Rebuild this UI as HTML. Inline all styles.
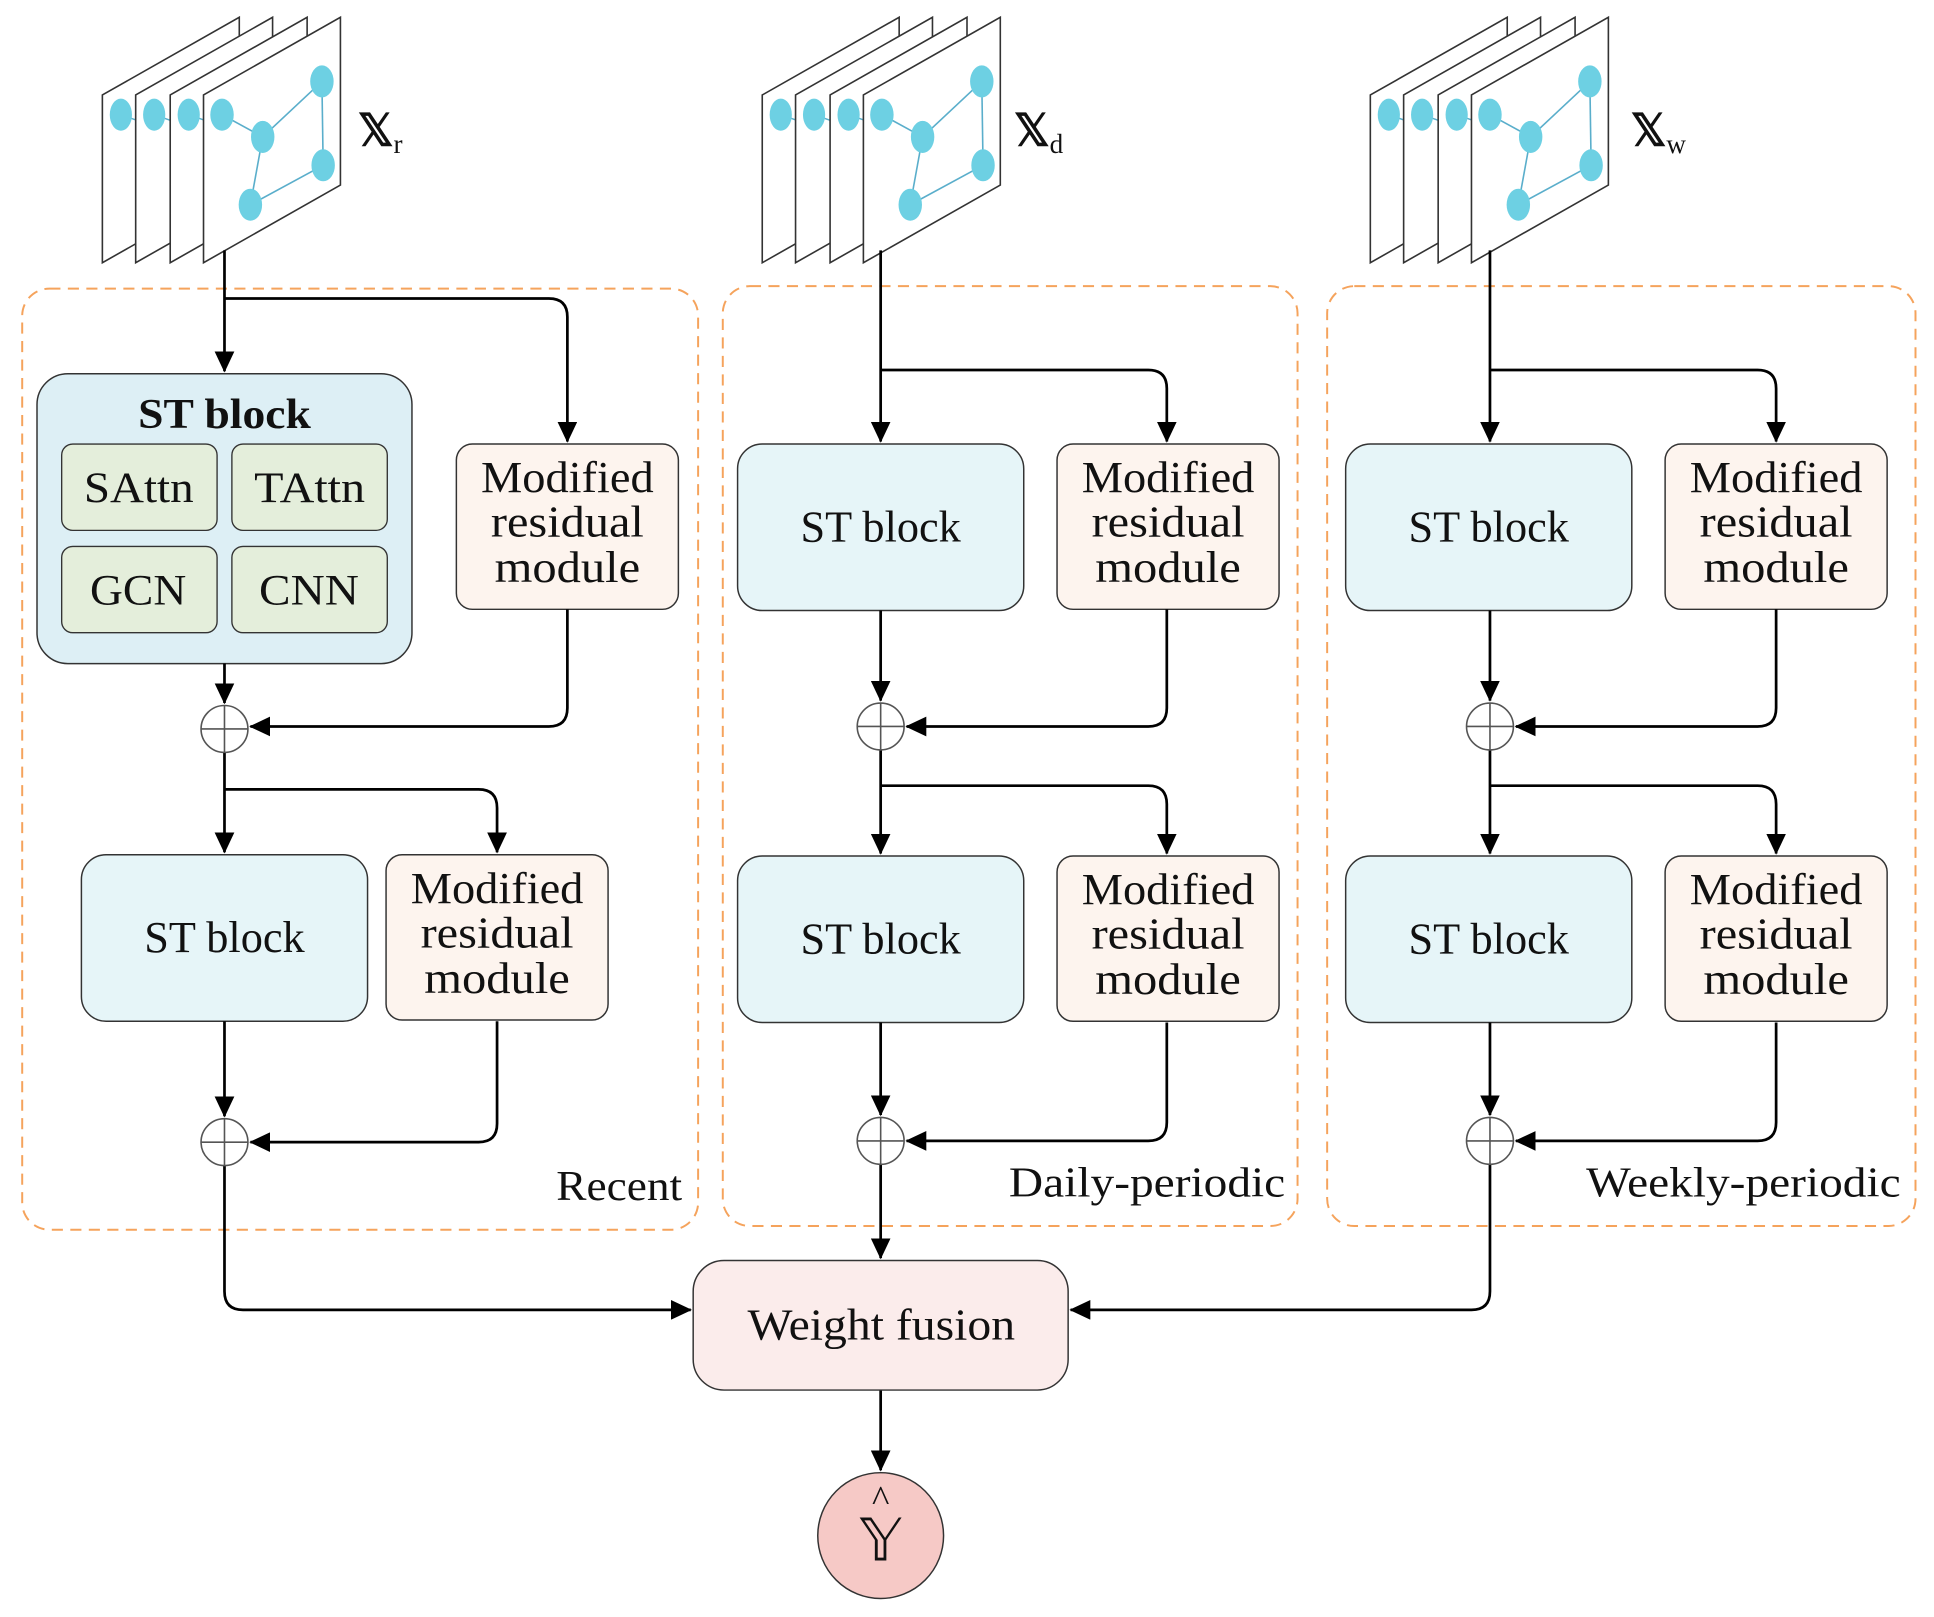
<!DOCTYPE html>
<html><head><meta charset="utf-8"><style>
html,body{margin:0;padding:0;background:#fff;}
svg{display:block;}
text{font-family:"Liberation Serif",serif;fill:#111;}
</style></head><body>
<svg width="1934" height="1617" viewBox="0 0 1568 1311" preserveAspectRatio="none" xmlns="http://www.w3.org/2000/svg">
<defs>
<marker id="a" markerUnits="userSpaceOnUse" markerWidth="18" markerHeight="16" refX="16" refY="8" orient="auto">
<path d="M0,0 L17,8 L0,16 Z" fill="#000"/>
</marker>
<g id="back">
<path d="M0,77 L111,14 L111,150 L0,213 Z" fill="#fff" stroke="#333" stroke-width="1.3"/>
<line x1="15" y1="93" x2="35" y2="100" stroke="#5aaecb" stroke-width="1.2"/>
<ellipse cx="15" cy="93" rx="9" ry="13" fill="#6dd0e3"/>
</g>
<g id="stack">
<use href="#back" x="83"/>
<use href="#back" x="110"/>
<use href="#back" x="138"/>
<path d="M165,77 L276,14 L276,150 L165,213 Z" fill="#fff" stroke="#333" stroke-width="1.3"/>
<g stroke="#5aaecb" stroke-width="1.3">
<line x1="180" y1="93" x2="213" y2="111"/>
<line x1="213" y1="111" x2="261" y2="66"/>
<line x1="261" y1="66" x2="262" y2="134"/>
<line x1="262" y1="134" x2="203" y2="166"/>
<line x1="203" y1="166" x2="213" y2="111"/>
</g>
<g fill="#6dd0e3">
<ellipse cx="180" cy="93" rx="9.5" ry="13"/>
<ellipse cx="213" cy="111" rx="9.5" ry="13"/>
<ellipse cx="261" cy="66" rx="9.5" ry="13"/>
<ellipse cx="262" cy="134" rx="9.5" ry="13"/>
<ellipse cx="203" cy="166" rx="9.5" ry="13"/>
</g>
</g>
<g id="plus">
<circle r="19" fill="#fff" stroke="#555" stroke-width="1.3"/>
<line x1="-19" y1="0" x2="19" y2="0" stroke="#555" stroke-width="1.3"/>
<line x1="0" y1="-19" x2="0" y2="19" stroke="#555" stroke-width="1.3"/>
</g>
<g id="mod">
<rect x="0" y="0" width="180" height="134" rx="13" fill="#fdf4ee" stroke="#333" stroke-width="1.2"/>
<text x="20" y="39" font-size="36" textLength="140" lengthAdjust="spacingAndGlyphs">Modified</text>
<text x="28" y="75" font-size="36" textLength="124" lengthAdjust="spacingAndGlyphs">residual</text>
<text x="31" y="112" font-size="36" textLength="118" lengthAdjust="spacingAndGlyphs">module</text>
</g>
<g id="st">
<rect x="0" y="0" width="232" height="135" rx="20" fill="#e6f5f8" stroke="#333" stroke-width="1.2"/>
<text x="51" y="79" font-size="36" textLength="130" lengthAdjust="spacingAndGlyphs">ST block</text>
</g>
</defs>

<use href="#stack"/>
<use href="#stack" x="535"/>
<use href="#stack" x="1028"/>
<text x="290" y="118" font-size="36" font-weight="bold">𝕏<tspan font-size="22" font-weight="normal" dy="6">r</tspan></text>
<text x="822" y="118" font-size="36" font-weight="bold">𝕏<tspan font-size="22" font-weight="normal" dy="6">d</tspan></text>
<text x="1322" y="118" font-size="36" font-weight="bold">𝕏<tspan font-size="22" font-weight="normal" dy="6">w</tspan></text>

<g fill="none" stroke="#f5a35c" stroke-width="1.6" stroke-dasharray="9,6">
<rect x="18" y="234" width="548" height="763" rx="22"/>
<rect x="586" y="232" width="466" height="762" rx="22"/>
<rect x="1076" y="232" width="477" height="762" rx="22"/>
</g>
<text x="451" y="973" font-size="34" textLength="102" lengthAdjust="spacingAndGlyphs">Recent</text>
<text x="818" y="970" font-size="34" textLength="224" lengthAdjust="spacingAndGlyphs">Daily-periodic</text>
<text x="1286" y="970" font-size="34" textLength="255" lengthAdjust="spacingAndGlyphs">Weekly-periodic</text>

<rect x="30" y="303" width="304" height="235" rx="25" fill="#ddeff5" stroke="#333" stroke-width="1.2"/>
<text x="112" y="347" font-size="34" font-weight="bold" textLength="140" lengthAdjust="spacingAndGlyphs">ST block</text>
<g stroke="#333" stroke-width="1.1" fill="#e4eedb">
<rect x="50" y="360" width="126" height="70" rx="9"/>
<rect x="188" y="360" width="126" height="70" rx="9"/>
<rect x="50" y="443" width="126" height="70" rx="9"/>
<rect x="188" y="443" width="126" height="70" rx="9"/>
</g>
<text x="68" y="407" font-size="35" textLength="89" lengthAdjust="spacingAndGlyphs">SAttn</text>
<text x="206" y="407" font-size="35" textLength="90" lengthAdjust="spacingAndGlyphs">TAttn</text>
<text x="73" y="490" font-size="35" textLength="78" lengthAdjust="spacingAndGlyphs">GCN</text>
<text x="210" y="490" font-size="35" textLength="81" lengthAdjust="spacingAndGlyphs">CNN</text>
<use href="#mod" x="370" y="360"/>
<use href="#st" x="66" y="693"/>
<use href="#mod" x="313" y="693"/>

<use href="#st" x="598" y="360"/>
<use href="#mod" x="857" y="360"/>
<use href="#st" x="598" y="694"/>
<use href="#mod" x="857" y="694"/>

<use href="#st" x="1091" y="360"/>
<use href="#mod" x="1350" y="360"/>
<use href="#st" x="1091" y="694"/>
<use href="#mod" x="1350" y="694"/>

<g fill="none" stroke="#000" stroke-width="2.2">
<path d="M182,203 V301" marker-end="url(#a)"/>
<path d="M182,242 H445 Q460,242 460,257 V358" marker-end="url(#a)"/>
<path d="M182,538 V570" marker-end="url(#a)"/>
<path d="M460,494 V574 Q460,589 445,589 H203" marker-end="url(#a)"/>
<path d="M182,610 V691" marker-end="url(#a)"/>
<path d="M182,640 H388 Q403,640 403,655 V691" marker-end="url(#a)"/>
<path d="M182,828 V905" marker-end="url(#a)"/>
<path d="M403,828 V911 Q403,926 388,926 H203" marker-end="url(#a)"/>
<path d="M182,945 V1047 Q182,1062 197,1062 H560" marker-end="url(#a)"/>
<path d="M714,203 V358" marker-end="url(#a)"/>
<path d="M714,300 H931 Q946,300 946,315 V358" marker-end="url(#a)"/>
<path d="M714,495 V568" marker-end="url(#a)"/>
<path d="M946,494 V574 Q946,589 931,589 H735" marker-end="url(#a)"/>
<path d="M714,608 V692" marker-end="url(#a)"/>
<path d="M714,637 H931 Q946,637 946,652 V692" marker-end="url(#a)"/>
<path d="M714,829 V904" marker-end="url(#a)"/>
<path d="M946,829 V910 Q946,925 931,925 H735" marker-end="url(#a)"/>
<path d="M714,944 V1020" marker-end="url(#a)"/>
<path d="M1208,203 V358" marker-end="url(#a)"/>
<path d="M1208,300 H1425 Q1440,300 1440,315 V358" marker-end="url(#a)"/>
<path d="M1208,495 V568" marker-end="url(#a)"/>
<path d="M1440,494 V574 Q1440,589 1425,589 H1229" marker-end="url(#a)"/>
<path d="M1208,608 V692" marker-end="url(#a)"/>
<path d="M1208,637 H1425 Q1440,637 1440,652 V692" marker-end="url(#a)"/>
<path d="M1208,829 V904" marker-end="url(#a)"/>
<path d="M1440,829 V910 Q1440,925 1425,925 H1229" marker-end="url(#a)"/>
<path d="M1208,944 V1047 Q1208,1062 1193,1062 H868" marker-end="url(#a)"/>
<path d="M714,1127 V1192" marker-end="url(#a)"/>
</g>

<use href="#plus" x="182" y="591"/>
<use href="#plus" x="182" y="926"/>
<use href="#plus" x="714" y="589"/>
<use href="#plus" x="714" y="925"/>
<use href="#plus" x="1208" y="589"/>
<use href="#plus" x="1208" y="925"/>

<rect x="562" y="1022" width="304" height="105" rx="25" fill="#fbeceb" stroke="#333" stroke-width="1.2"/>
<text x="606" y="1086" font-size="36" textLength="217" lengthAdjust="spacingAndGlyphs">Weight fusion</text>

<circle cx="714" cy="1245" r="51" fill="#f6c9c6" stroke="#333" stroke-width="1.2"/>
<text x="714" y="1265" font-size="48" text-anchor="middle">𝕐</text>
<text x="714" y="1225" font-size="30" text-anchor="middle">^</text>
</svg>
</body></html>
